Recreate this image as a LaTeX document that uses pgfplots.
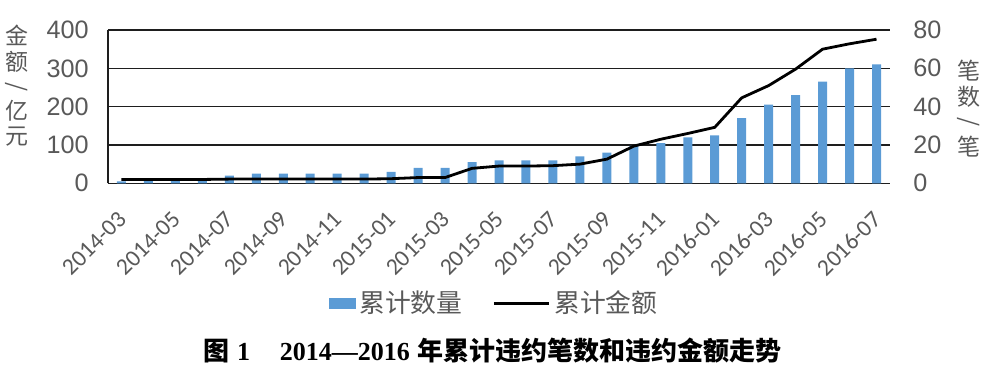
\documentclass[border=0pt]{standalone}
\usepackage{fontspec}
\setmainfont{Liberation Sans}
\newfontfamily\cjk{Noto Sans CJK SC}
\newfontfamily\carl{Carlito}
\newfontfamily\serifb{Liberation Serif}
\usepackage{pgfplots}
\usepackage{pgfplotstable}
\usepackage{graphicx}
\pgfplotsset{compat=1.18}
\definecolor{barblue}{RGB}{91,155,213}
\definecolor{tickgray}{RGB}{89,89,89}
\definecolor{gridc}{RGB}{30,30,30}

\pgfplotstableread{
x cnt amt
0 1 10
1 2 10
2 2 10
3 2 10
4 4 11
5 5 11
6 5 11
7 5 11
8 5 11
9 5 11
10 6 12
11 8 15
12 8 15
13 11 39
14 12 45
15 12 45
16 12 46
17 14 50
18 16 63
19 19.5 97
20 21 115
21 24 130
22 25 146
23 34 223
24 41 255
25 46 298
26 53 350
27 60 364
28 62 376
}\data

\newcommand{\vslash}{\makebox[1em][c]{\rotatebox[origin=c]{-90}{/}}}

\begin{document}
\begin{tikzpicture}
\useasboundingbox (-54pt,-92.85pt) rectangle (446pt,91.65pt);
\begin{axis}[
  name=ax1,
  at={(0,0)}, anchor=south west,
  scale only axis, width=391pt, height=76.65pt,
  xmin=-0.5, xmax=28.5, ymin=0, ymax=80,
  axis x line*=bottom, axis y line*=right,
  x axis line style={draw=none}, y axis line style={draw=none},
  ytick={0,20,...,80},
  xtick={0,2,...,28},
  xticklabels={2014-03,2014-05,2014-07,2014-09,2014-11,2015-01,2015-03,2015-05,2015-07,2015-09,2015-11,2016-01,2016-03,2016-05,2016-07},
  major tick length=0pt,
  ymajorgrids,
  grid style={line width=0.75pt, color=gridc},
  /pgf/number format/assume math mode=true,
  yticklabel style={font=\fontsize{12.6}{14}\selectfont, text=tickgray, anchor=west, inner sep=0pt, xshift=11.5pt},
  xticklabel style={xshift=0.5pt, yshift=-16pt, font=\carl\fontsize{11.8}{13}\selectfont, text=tickgray, rotate=45, anchor=east, inner sep=0pt},
]
\addplot[ybar, bar width=4.5pt, bar shift=0pt, fill=barblue, draw=none] table[x=x,y=cnt]{\data};
\end{axis}
\begin{axis}[
  at={(0,0)}, anchor=south west,
  scale only axis, width=391pt, height=76.65pt,
  xmin=-0.5, xmax=28.5, ymin=0, ymax=400,
  axis x line=none, axis y line*=left,
  y axis line style={line width=0.75pt, color=gridc},
  ytick={0,100,...,400},
  major tick length=0pt,
  /pgf/number format/assume math mode=true,
  yticklabel style={font=\fontsize{12.6}{14}\selectfont, text=tickgray, anchor=east, inner sep=0pt, xshift=-9.5pt},
  legend columns=2,
  legend style={at={(axis description cs:0.495,-0.784)}, anchor=center, draw=none, fill=none,
    font=\cjk\fontsize{12.9}{14}\selectfont, text=tickgray,
    /tikz/every even column/.append style={column sep=13pt}},
  legend cell align=left,
]
\addlegendimage{legend image code/.code={\fill[barblue] (0pt,-2.5pt) rectangle (13pt,2.5pt);}}
\addlegendentry{累计数量}
\addplot[line width=1.4pt, black, legend image code/.code={\draw[line width=1.4pt, black] (0pt,0pt) -- (27.5pt,0pt);}] table[x=x,y=amt]{\data};
\addlegendentry{累计金额}
\end{axis}
\node[font=\cjk\fontsize{11.5}{11.5}\selectfont, text=tickgray, inner sep=0pt] at (-45.5pt,47.65pt) {\begin{tabular}{@{}c@{}}金\\额\\\vslash\\亿\\元\end{tabular}};
\node[font=\cjk\fontsize{11.5}{11.5}\selectfont, text=tickgray, inner sep=0pt] at (430.5pt,36.15pt) {\begin{tabular}{@{}c@{}}笔\\数\\\vslash\\笔\end{tabular}};
\node[font=\fontsize{13}{15}\selectfont, inner sep=0pt] at (192.25pt,-83.85pt) {{\cjk\bfseries 图} {\serifb\bfseries 1}\hspace{15pt}{\serifb\bfseries 2014—2016} {\cjk\bfseries 年累计违约笔数和违约金额走势}};
\end{tikzpicture}
\end{document}
